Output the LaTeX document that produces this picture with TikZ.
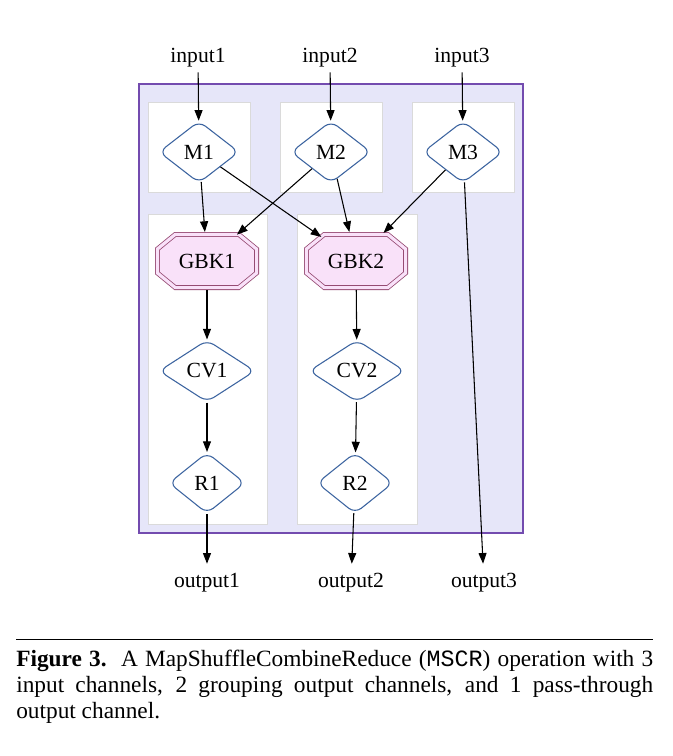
\documentclass[tikz,border=0pt]{standalone}
\usepackage{fontspec}
\setmainfont{Liberation Serif}
\newfontfamily\capmono{Liberation Mono}
\usetikzlibrary{shapes.geometric,arrows.meta}
\definecolor{boxfill}{RGB}{230,230,249}
\definecolor{boxline}{RGB}{115,75,175}
\definecolor{clusterline}{RGB}{218,218,218}
\definecolor{nodeblue}{RGB}{60,100,160}
\definecolor{gbkfill}{RGB}{249,225,249}
\definecolor{gbkline}{RGB}{150,75,115}
\newcommand\glab{\fontsize{16.2pt}{19pt}\selectfont}
\newcommand\capfont{\fontsize{17.5pt}{20pt}\selectfont}
\makeatletter
\pgfdeclareshape{octagonbox}{%
  \inheritsavedanchors[from=rectangle]%
  \inheritanchorborder[from=rectangle]%
  \inheritanchor[from=rectangle]{center}%
  \inheritanchor[from=rectangle]{north}%
  \inheritanchor[from=rectangle]{south}%
  \inheritanchor[from=rectangle]{east}%
  \inheritanchor[from=rectangle]{west}%
  \inheritanchor[from=rectangle]{north east}%
  \inheritanchor[from=rectangle]{north west}%
  \inheritanchor[from=rectangle]{south east}%
  \inheritanchor[from=rectangle]{south west}%
  \inheritanchor[from=rectangle]{text}%
  \inheritanchor[from=rectangle]{base}%
  \inheritanchor[from=rectangle]{mid}%
  \backgroundpath{%
    \southwest \pgf@xa=\pgf@x \pgf@ya=\pgf@y
    \northeast \pgf@xb=\pgf@x \pgf@yb=\pgf@y
    \pgfmathsetlength\pgf@xc{\pgfkeysvalueof{/pgf/outer xsep}}%
    \pgfmathsetlength\pgf@yc{\pgfkeysvalueof{/pgf/outer ysep}}%
    \advance\pgf@xa by\pgf@xc
    \advance\pgf@ya by\pgf@yc
    \advance\pgf@xb by-\pgf@xc
    \advance\pgf@yb by-\pgf@yc
    \pgf@xc=\pgf@xb \advance\pgf@xc by-\pgf@xa \pgf@xc=0.18\pgf@xc
    \pgf@yc=\pgf@yb \advance\pgf@yc by-\pgf@ya \pgf@yc=0.275\pgf@yc
    \pgf@x=\pgf@xa \advance\pgf@x by\pgf@xc \edef\octXl{\the\pgf@x}%
    \pgf@x=\pgf@xb \advance\pgf@x by-\pgf@xc \edef\octXr{\the\pgf@x}%
    \pgf@y=\pgf@ya \advance\pgf@y by\pgf@yc \edef\octYb{\the\pgf@y}%
    \pgf@y=\pgf@yb \advance\pgf@y by-\pgf@yc \edef\octYt{\the\pgf@y}%
    \edef\octXa{\the\pgf@xa}\edef\octXb{\the\pgf@xb}%
    \edef\octYa{\the\pgf@ya}\edef\octYB{\the\pgf@yb}%
    \pgfpathmoveto{\pgfqpoint{\octXl}{\octYB}}%
    \pgfpathlineto{\pgfqpoint{\octXr}{\octYB}}%
    \pgfpathlineto{\pgfqpoint{\octXb}{\octYt}}%
    \pgfpathlineto{\pgfqpoint{\octXb}{\octYb}}%
    \pgfpathlineto{\pgfqpoint{\octXr}{\octYa}}%
    \pgfpathlineto{\pgfqpoint{\octXl}{\octYa}}%
    \pgfpathlineto{\pgfqpoint{\octXa}{\octYb}}%
    \pgfpathlineto{\pgfqpoint{\octXa}{\octYt}}%
    \pgfpathclose
  }%
}
\makeatother
\tikzset{
  mapnode/.style={diamond, draw=nodeblue, fill=white, line width=0.8pt,
    rounded corners=6pt, inner sep=0pt, font=\glab},
  gbknode/.style={octagonbox, draw=gbkline, double=gbkfill,
    double distance=2.4pt, line width=0.6pt, fill=gbkfill,
    minimum width=74.4pt, minimum height=39.9pt, inner sep=0pt,
    outer sep=1.8pt, font=\glab},
  txt/.style={inner sep=0pt, font=\glab},
  flow/.style={-{Triangle[length=8pt,width=6pt]}, line width=0.8pt},
  cluster/.style={draw=clusterline, fill=white, line width=0.6pt},
  capline/.style={anchor=base west, inner sep=0pt, font=\capfont},
}
\begin{document}
\begin{tikzpicture}[x=0.75pt,y=-0.75pt]
\useasboundingbox (0,0) rectangle (672,756);
% outer box and clusters
\draw[fill=boxfill, draw=boxline, line width=1.1pt] (139,84) rectangle (523,533);
\draw[cluster] (148,102) rectangle (250,192);
\draw[cluster] (280,102) rectangle (382,192);
\draw[cluster] (412,102) rectangle (514,192);
\draw[cluster] (148,214) rectangle (267,524);
\draw[cluster] (297,214) rectangle (417,524);
% text nodes
\node[txt, minimum height=21pt] (in1) at (198,58) {input1};
\node[txt, minimum height=21pt] (in2) at (330,58) {input2};
\node[txt, minimum height=21pt] (in3) at (462,58) {input3};
\node[txt, minimum height=28.5pt] (out1) at (207,583) {output1};
\node[txt, minimum height=28.5pt] (out2) at (351,583) {output2};
\node[txt, minimum height=28.5pt] (out3) at (484,583) {output3};
% map nodes
\node[mapnode, minimum width=60pt, minimum height=46.5pt] (M1) at (199,152) {M1};
\node[mapnode, minimum width=60pt, minimum height=46.5pt] (M2) at (331,152) {M2};
\node[mapnode, minimum width=60pt, minimum height=46.5pt] (M3) at (463,152) {M3};
% GBK nodes
\node[gbknode] (G1) at (207,261) {GBK1};
\node[gbknode] (G2) at (356,261) {GBK2};
% CV nodes
\node[mapnode, minimum width=72pt, minimum height=46.5pt] (CV1) at (207,371) {CV1};
\node[mapnode, minimum width=72pt, minimum height=46.5pt] (CV2) at (357,371) {CV2};
% R nodes
\node[mapnode, minimum width=57pt, minimum height=45.75pt] (R1) at (207,483) {R1};
\node[mapnode, minimum width=57pt, minimum height=45.75pt] (R2) at (355,483) {R2};
% edges
\draw[flow] (in1) -- (M1);
\draw[flow] (in2) -- (M2);
\draw[flow] (in3) -- (M3);
\draw[flow] (M1) -- (G1);
\draw[flow, shorten >=-6.5pt] (M1) -- (G2);
\draw[flow, shorten >=-3pt] (M2) -- (G1);
\draw[flow] (M2) -- (G2);
\draw[flow, shorten >=-1pt] (M3) -- (G2);
\draw[flow] (M3) -- (out3);
\draw[flow] (G1) -- (CV1);
\draw[flow] (G2) -- (CV2);
\draw[flow] (CV1) -- (R1);
\draw[flow] (CV2) -- (R2);
\draw[flow] (R1) -- (out1);
\draw[flow] (R2) -- (out2);
% caption
\draw[line width=0.75pt] (16,639) -- (653,639);
\node[capline] (cap1) at (16,666) {\makebox[477.75pt][s]{\textbf{Figure 3.}\ \ A MapShuffleCombineReduce ({\capmono MSCR}) operation with 3}};
\node[capline] (cap2) at (16,692) {\makebox[477.75pt][s]{input channels, 2 grouping output channels, and 1 pass-through}};
\node[capline] (cap3) at (16,718) {output channel.};
\end{tikzpicture}
\end{document}
